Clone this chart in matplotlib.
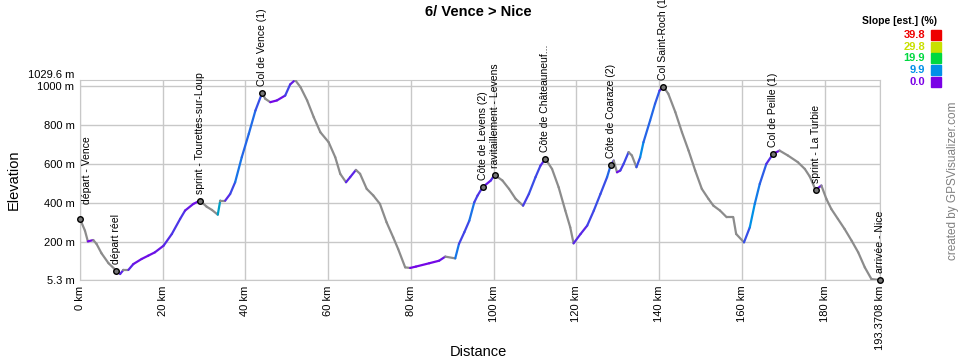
import numpy as np
import matplotlib
import matplotlib.pyplot as plt
from matplotlib.collections import LineCollection
from matplotlib.colors import LinearSegmentedColormap
from matplotlib.patches import Rectangle
matplotlib.use('Agg')

plt.rcParams['font.family'] = ['Liberation Sans', 'DejaVu Sans']

# ------------ Data ------------ #

dist_km = [0, 1.2, 1.9, 3.2, 4.0, 5.2, 6.9, 8.8, 9.7, 10.5, 11.7, 12.9, 14.9, 16.5, 18.1,
           20.2, 22.2, 24.2, 25.4, 27.4, 29.0, 30.6, 31.9, 33.3, 33.9, 35.1, 36.3, 37.5,
           39.1, 40.8, 42.4, 44.0, 44.8, 46.0, 47.6, 49.6, 50.8, 52.0, 53.3, 54.9, 56.5,
           58.1, 60.1, 61.7, 62.9, 64.3, 65.3, 66.7, 67.7, 69.3, 70.9, 72.5, 74.1, 75.7,
           76.9, 78.6, 79.8, 81.2, 84.4, 86.8, 88.3, 90.7, 91.6, 92.9, 94.1, 95.3, 96.1,
           97.3, 99.3, 100.2, 102.1, 103.7, 105.3, 107.1, 108.5, 110.1, 111.3, 112.5,
           114.1, 115.7, 117.3, 118.5, 119.3, 121.0, 122.6, 124.2, 125.8, 127.4, 128.3,
           129.0, 129.8, 130.6, 131.4, 132.6, 133.4, 134.5, 135.4, 136.2, 137.8, 139.0,
           140.1, 141.0, 142.2, 143.9, 145.5, 147.1, 148.7, 150.3, 151.9, 153.1, 154.7,
           156.3, 157.9, 158.6, 160.5, 161.9, 163.1, 164.3, 165.9, 167.5, 169.1, 171.1,
           173.5, 175.2, 176.4, 177.8, 179.2, 180.4, 181.6, 183.2, 184.8, 186.5, 188.1,
           189.7, 191.3, 193.3708]
elev_m = [318, 258, 203, 210, 190, 142, 91, 53, 36, 57, 57, 87, 113, 130, 147,
          181, 241, 318, 361, 395, 412, 381, 364, 340, 412, 412, 446, 506,
          634, 754, 873, 962, 933, 916, 925, 950, 1007, 1029.6, 993, 925, 839,
          762, 711, 634, 549, 506, 532, 569, 549, 472, 438, 395, 301, 224,
          164, 70, 67, 74, 91, 104, 125, 116, 190, 250, 309, 403, 438,
          480, 515, 544, 515, 472, 421, 386, 446, 532, 591, 626,
          574, 480, 361, 275, 193, 241, 284, 361, 446, 532, 595,
          617, 557, 566, 600, 660, 643, 583, 634, 711, 822, 908,
          976, 996, 959, 865, 762, 668, 566, 472, 421, 386, 361,
          327, 327, 241, 198, 275, 395, 497, 600, 651, 668, 643,
          609, 574, 535, 467, 489, 421, 369, 318, 267, 207, 147,
          70, 10, 5.3]

wp_names = ["départ - Vence", "départ réel", "sprint - Tourettes-sur-Loup",
            "Col de Vence (1)", "Côte de Levens (2)", "ravitaillement - Levens",
            "Côte de Châteauneuf...", "Côte de Coaraze (2)", "Col Saint-Roch (1)",
            "Col de Peille (1)", "sprint - La Turbie", "arrivée - Nice"]
wp_km = [0, 8.8, 29.0, 44.0, 97.3, 100.2, 112.5, 128.3, 141.0, 167.5, 177.8, 193.3708]
wp_elev = [318, 53, 412, 962, 480, 544, 626, 595, 996, 651, 467, 5.3]

slope_levels = [0.0, 9.9, 19.9, 29.8, 39.8]
slope_colors = ['#7a00e6', '#0090e8', '#00d840', '#c8e000', '#ee0000']

x_ticks = [0, 20, 40, 60, 80, 100, 120, 140, 160, 180, 193.3708]
x_tick_labels = ['0 km', '20 km', '40 km', '60 km', '80 km', '100 km', '120 km',
                 '140 km', '160 km', '180 km', '193.3708 km']
y_ticks = [5.3, 200, 400, 600, 800, 1000]
y_tick_labels = ['5.3 m', '200 m', '400 m', '600 m', '800 m', '1000 m']
y_max = 1029.6

assert len(dist_km) == len(elev_m)

# ------------ Figure ------------ #

fig = plt.figure(figsize=(9.6, 3.6), dpi=100)
ax = fig.add_axes([80 / 960, 80 / 360, 800 / 960, 200 / 360])

x = np.array(dist_km)
y = np.array(elev_m)
slope = np.diff(y) / (np.diff(x) * 1000) * 100
cmap = LinearSegmentedColormap.from_list(
    'slope', list(zip(np.array(slope_levels) / slope_levels[-1], slope_colors)))
seg_colors = [cmap(min(s, slope_levels[-1]) / slope_levels[-1]) if s > 0 else '#8c8c8c'
              for s in slope]
segs = np.stack([np.column_stack([x[:-1], y[:-1]]), np.column_stack([x[1:], y[1:]])], axis=1)
ax.add_collection(LineCollection(segs, colors=seg_colors, linewidths=1.6,
                                 capstyle='round', zorder=3))

# waypoints
ax.plot(wp_km, wp_elev, 'o', ms=4, mfc='#777777', mec='black', mew=1,
        zorder=4, clip_on=False)
for i, (name, xk, ye) in enumerate(zip(wp_names, wp_km, wp_elev)):
    offset = (5, 11) if i == 0 else (0, 5)
    ax.annotate(name, (xk, ye), xytext=offset, textcoords='offset points',
                rotation=90, ha='center', va='bottom', fontsize=7.5,
                annotation_clip=False)

ax.set_xlim(0, x_ticks[-1])
ax.set_ylim(y_ticks[0], y_max)
ax.set_xticks(x_ticks)
ax.set_xticklabels(x_tick_labels, rotation=90)
ax.set_yticks(y_ticks)
ax.set_yticklabels(y_tick_labels)
ax.annotate(f"{y_max} m", (0, y_max), xycoords=('axes fraction', 'data'),
            xytext=(-4, 0), textcoords='offset points', ha='right', va='bottom',
            fontsize=8)
ax.tick_params(length=0, pad=4, labelsize=8)
ax.grid(color='#c8c8c8', lw=1)
ax.set_axisbelow(True)
for sp in ax.spines.values():
    sp.set_color('#c8c8c8')

# titles and axis names
fig.text(478 / 960, 1 - 12 / 360, "6/ Vence > Nice", ha='center', va='center',
         fontsize=10.5, weight='bold')
fig.text(14 / 960, 1 - 180 / 360, "Elevation", rotation=90, ha='center', va='center',
         fontsize=10.5)
fig.text(478 / 960, 1 - 352 / 360, "Distance", ha='center', va='center', fontsize=10.5)
fig.text(953 / 960, 1 - 260 / 360, "created by GPSVisualizer.com", rotation=90,
         ha='center', va='bottom', fontsize=8.5, color='#808080')

# slope legend
fig.text(937 / 960, 1 - 21 / 360, "Slope [est.] (%)", ha='right', va='center',
         fontsize=7.5, weight='bold')
for k, (lev, col) in enumerate(zip(slope_levels[::-1], slope_colors[::-1])):
    yc = 35 + k * 11.7
    fig.text(925 / 960, 1 - yc / 360, f"{lev:.1f}", ha='right', va='center',
             fontsize=8, weight='bold', color=col)
    fig.add_artist(Rectangle(((931) / 960, 1 - (yc + 5) / 360), 10 / 960, 10 / 360,
                             transform=fig.transFigure, color=col))

fig.savefig('out.png', dpi=100)
